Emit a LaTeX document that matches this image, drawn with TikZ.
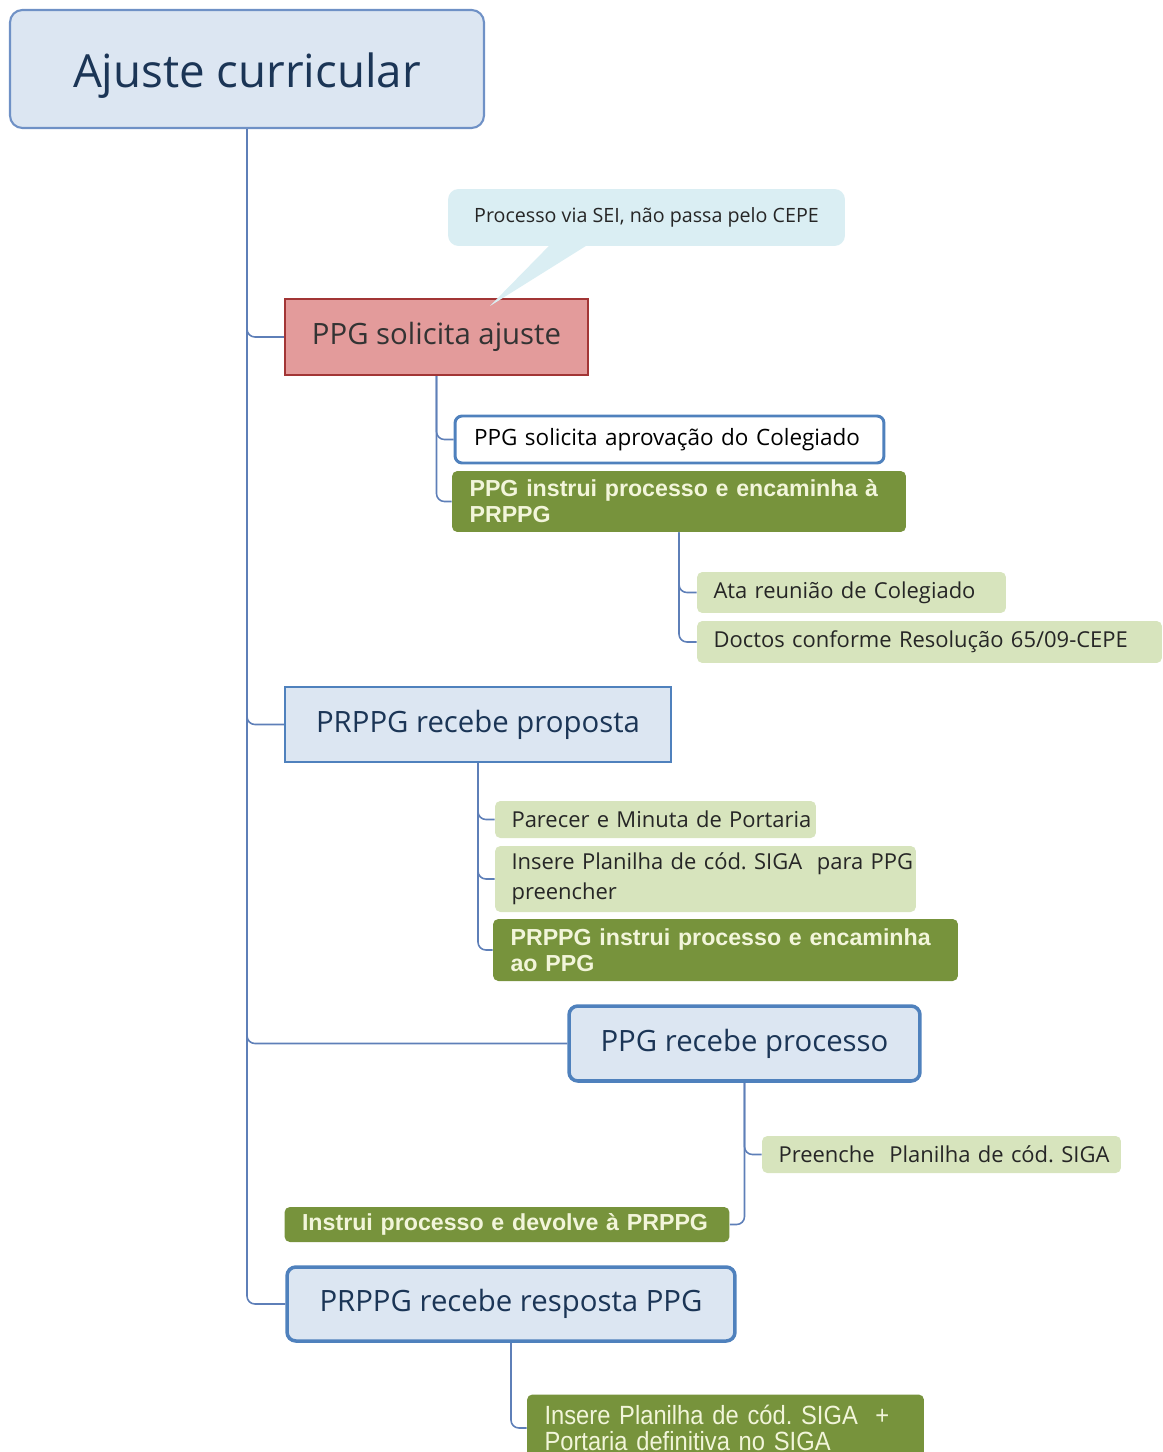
\documentclass[tikz,border=0pt]{standalone}
\usepackage{fontspec}
\setmainfont{Open Sans}
\newfontfamily\arialfont{Liberation Sans}
\newfontfamily\narrowfont[FakeStretch=0.9]{Liberation Sans}
\usetikzlibrary{positioning}
\definecolor{topicfill}{HTML}{DCE6F2}
\definecolor{bluebord}{HTML}{4F81BD}
\definecolor{rootbord}{HTML}{6F91C6}
\definecolor{topictext}{HTML}{1B3556}
\definecolor{redfill}{HTML}{E39B9B}
\definecolor{redbord}{HTML}{A23535}
\definecolor{dgreen}{HTML}{77933C}
\definecolor{gtext}{HTML}{F2F5DA}
\definecolor{lgreen}{HTML}{D7E4BD}
\definecolor{calloutc}{HTML}{DAEEF3}
\definecolor{linec}{HTML}{5E7FB8}
\frenchspacing
\hyphenpenalty=10000

\begin{document}
\begin{tikzpicture}[x=0.02cm, y=-0.02cm,
	conn/.style={draw=linec, line width=0.9pt, rounded corners=4.5pt},
	topic/.style={draw=bluebord, line width=1.3pt, fill=topicfill, text=topictext,
		inner sep=0pt, font=\fontsize{16.7}{20}\selectfont},
	rtopic/.style={topic, line width=2pt, rounded corners=5pt},
	lbox/.style={fill=lgreen, rounded corners=3pt, inner xsep=0.33cm, inner ysep=0pt,
		align=left, text=black!85, font=\fontsize{12.5}{17}\selectfont},
	gbox/.style={fill=dgreen, rounded corners=3pt, inner xsep=0.35cm, inner ysep=0pt,
		align=left, text=gtext, font=\arialfont\bfseries\fontsize{13.2}{14.8}\selectfont}]
	\useasboundingbox (0,0) rectangle (1162,1452);

	% main topic and callout
	\node[draw=rootbord, line width=1.2pt, fill=topicfill, rounded corners=7pt, inner sep=0pt,
		minimum width=9.48cm, minimum height=2.36cm, text=topictext, text height=24pt, text depth=3pt,
		font=\fontsize{26}{30}\selectfont] (root) at (247,69) {Ajuste curricular};
	\node[fill=calloutc, rounded corners=6pt, inner sep=0pt, minimum width=7.94cm,
		minimum height=1.14cm, text=black!85, font=\fontsize{11.2}{13}\selectfont]
		(note) at (646.5,217.5) {Processo via SEI, não passa pelo CEPE};

	% subtopics
	\node[topic, draw=redbord, fill=redfill, text=black!80, minimum width=6.06cm,
		minimum height=1.52cm] (solicita) at (436.5,337) {PPG solicita ajuste};
	\node[topic, minimum width=7.72cm, minimum height=1.5cm] (proposta) at (478,724.5) {PRPPG recebe proposta};
	\node[rtopic, minimum width=7.02cm, minimum height=1.5cm] (recebe) at (744.5,1043.5) {PPG recebe processo};
	\node[rtopic, minimum width=8.96cm, minimum height=1.48cm] (resposta) at (511,1304) {PRPPG recebe resposta PPG};

	\coordinate (tip) at (490,306);
	\fill[calloutc] (note.south) ++(-96,-2) -- ++(38,0) -- (tip) -- cycle;

	% details
	\node[draw=bluebord, line width=1.7pt, fill=white, rounded corners=4pt, inner xsep=0.38cm,
		inner ysep=0pt, align=left, text width=7.82cm, minimum height=0.94cm,
		font=\fontsize{12.8}{17}\selectfont] (aprovacao) at (669.5,439.5) {PPG solicita aprovação do Colegiado};
	\node[gbox, text width=8.38cm, minimum height=1.22cm] (instrui) at (679,501.5) {PPG instrui processo e encaminha à\\PRPPG};
	\node[lbox, text width=5.52cm, minimum height=0.82cm] (ata) at (851.5,592.5) {\mbox{Ata reunião de Colegiado}};
	\node[lbox, text width=8.64cm, minimum height=0.84cm] (doctos) at (929.5,642) {\mbox{Doctos conforme Resolução 65/09-CEPE}};
	\node[lbox, text width=5.76cm, minimum height=0.74cm] (parecer) at (655.5,819.5) {\mbox{Parecer e Minuta de Portaria}};
	\node[lbox, text width=7.76cm, minimum height=1.32cm] (planilha) at (705.5,879) {\mbox{Insere Planilha de cód. SIGA\ \ para PPG}\\preencher};
	\node[gbox, text width=8.6cm, minimum height=1.24cm] (encaminha) at (725.5,950) {PRPPG instrui processo e encaminha\\ao PPG};
	\node[lbox, text width=6.52cm, minimum height=0.74cm] (preenche) at (941.5,1154.5) {\mbox{Preenche\ \ Planilha de cód. SIGA}};
	\node[gbox, text width=8.2cm, minimum height=0.7cm] (devolve) at (507,1224.5) {Instrui processo e devolve à PRPPG};
	\node[gbox, text width=7.24cm, minimum height=1.34cm, font=\narrowfont\fontsize{15}{14.8}\selectfont]
		(portaria) at (725.5,1428) {Insere Planilha de cód. SIGA\ \ +\\Portaria definitiva no SIGA};

	% connectors
	\draw[conn] (root.south) |- (solicita.west);
	\draw[conn] (root.south) |- (proposta.west);
	\draw[conn] (root.south) |- (recebe.west);
	\draw[conn] (root.south) |- (resposta.west);
	\draw[conn] (solicita.south) |- (aprovacao.west);
	\draw[conn] (solicita.south) |- (instrui.west);
	\draw[conn] (instrui.south) |- (ata.west);
	\draw[conn] (instrui.south) |- (doctos.west);
	\draw[conn] (proposta.south) |- (parecer.west);
	\draw[conn] (proposta.south) |- (planilha.west);
	\draw[conn] (proposta.south) |- (encaminha.west);
	\draw[conn] (recebe.south) |- (preenche.west);
	\draw[conn] (recebe.south) |- (devolve.east);
	\draw[conn] (resposta.south) |- (portaria.west);
\end{tikzpicture}
\end{document}
